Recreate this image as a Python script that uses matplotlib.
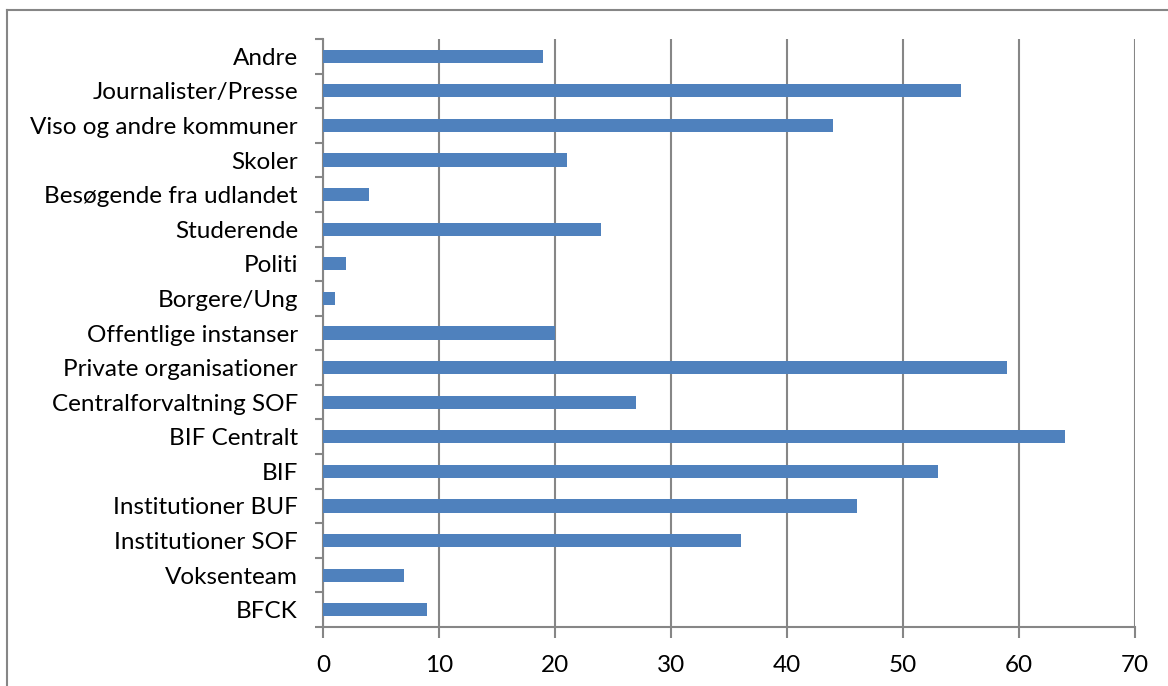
import matplotlib
matplotlib.use("Agg")
import matplotlib.pyplot as plt
from matplotlib.lines import Line2D
import numpy as np

# Categories from top to bottom as shown in the chart
categories = [
    "Andre", "Journalister/Presse", "Viso og andre kommuner", "Skoler",
    "Besøgende fra udlandet", "Studerende", "Politi", "Borgere/Ung",
    "Offentlige instanser", "Private organisationer", "Centralforvaltning SOF",
    "BIF Centralt", "BIF", "Institutioner BUF", "Institutioner SOF",
    "Voksenteam", "BFCK",
]
values = [19, 55, 44, 21, 4, 24, 2, 1, 20, 59, 27, 64, 53, 46, 36, 7, 9]
xticks = [0, 10, 20, 30, 40, 50, 60, 70]

plt.rcParams['font.family'] = ['Lato', 'DejaVu Sans']

W, H = 1168, 686
fig = plt.figure(figsize=(W / 100, H / 100), dpi=100)
ax = fig.add_axes([323 / W, 1 - 627 / H, (1135 - 323) / W, (627 - 39) / H])

grey = "#868686"
n = len(categories)
ypos = np.arange(n)[::-1]
ax.barh(ypos, values, height=0.38, color="#4F81BD", zorder=3)

ax.set_xlim(0, 70)
ax.set_ylim(-0.5, n - 0.5)
ax.set_xticks(xticks)
ax.set_xticklabels([str(t) for t in xticks])
ax.set_yticks(ypos)
ax.set_yticklabels(categories)
ax.set_yticks(np.arange(-0.5, n, 1), minor=True)

ax.grid(axis="x", color=grey, linewidth=1.5, zorder=0)
for s in ["top", "right"]:
    ax.spines[s].set_visible(False)
for s in ["left", "bottom"]:
    ax.spines[s].set_color(grey)
    ax.spines[s].set_linewidth(1.5)

ax.tick_params(axis="y", which="major", length=0, pad=18, labelsize=17.5)
ax.tick_params(axis="y", which="minor", length=6, width=1.5, color=grey)
ax.tick_params(axis="x", which="major", length=8, width=1.5, color=grey,
               pad=12, labelsize=17.5)

# outer chart frame (only left and top edges fall inside the image)
fig.add_artist(Line2D([7 / W, 7 / W], [0, 1 - 10 / H], transform=fig.transFigure,
                      color=grey, linewidth=1.5))
fig.add_artist(Line2D([7 / W, 1], [1 - 10 / H, 1 - 10 / H], transform=fig.transFigure,
                      color=grey, linewidth=1.5))

fig.savefig("out.png", dpi=100)
